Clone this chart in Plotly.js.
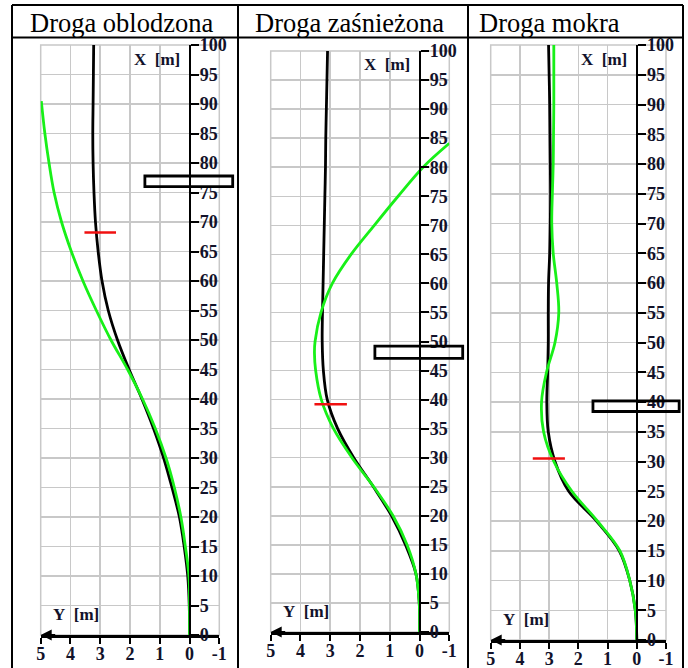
<!DOCTYPE html>
<html><head><meta charset="utf-8">
<script src="https://cdn.plot.ly/plotly-3.0.1.min.js"></script>
<style>html,body{margin:0;padding:0;background:#fff;}#chart{width:688px;height:668px;}</style>
</head><body><div id="chart"></div>
<script>
// ---- data ----
const titles = ['Droga oblodzona', 'Droga zaśnieżona', 'Droga mokra'];
const distTicks = [0,5,10,15,20,25,30,35,40,45,50,55,60,65,70,75,80,85,90,95,100];
const distTickText = distTicks.map(v => '<b>' + v + '</b>');
const latTicks = [5,4,3,2,1,0,-1];
const latTickText = ['<b>5</b>','<b>4</b>','<b>3</b>','<b>2</b>','<b>1</b>','<b>0</b>','<b>-1</b>'];
const latRange = [5,-1];
const distRange = [0,100];
const xLabel = '<b>X\u00a0\u00a0[m]</b>';
const yLabel = '<b>Y\u00a0\u00a0[m]</b>';

const pathX = [0,5,10,15,20,25,30,35,40,45,50,55,60,65,70,75,80,85,90,95,100];
const iceBlack  = [0,0.01,0.06,0.18,0.34,0.59,0.87,1.21,1.60,2.03,2.42,2.73,2.94,3.07,3.16,3.21,3.24,3.25,3.24,3.23,3.22];
const snowBlack = [0,0.01,0.12,0.47,0.94,1.55,2.21,2.75,3.10,3.23,3.27,3.26,3.24,3.22,3.20,3.18,3.16,3.15,3.13,3.11,3.09];
const wetBlack  = [0,0.05,0.24,0.60,1.38,2.33,2.80,3.03,3.08,3.05,3.03,3.03,3.02,2.98,2.96,2.95,2.96,2.97,2.98,3.00,3.02];

const iceGreenX  = [0,5,10,15,20,25,30,35,40,45,50,55,60,65,70,75,80,85,90.5];
const iceGreenY  = [0,0,0.02,0.14,0.29,0.51,0.79,1.15,1.58,2.08,2.64,3.13,3.58,3.97,4.30,4.55,4.72,4.86,4.98];
const snowGreenX = [0,5,10,15,20,25,30,35,40,45,48,50,55,60,65,70,75,80,84.1];
const snowGreenY = [0,0.01,0.12,0.42,0.89,1.54,2.27,2.89,3.30,3.49,3.53,3.51,3.31,2.93,2.30,1.52,0.72,-0.12,-1.0];
const wetGreenX  = [0,5,10,15,20,25,30,35,40,45,50,55,60,65,70,75,80,85,90,95,100];
const wetGreenY  = [0,0.05,0.24,0.58,1.35,2.22,2.84,3.19,3.26,3.09,2.80,2.67,2.74,2.86,2.91,2.89,2.86,2.85,2.84,2.84,2.84];

const markY0 = [3.53,3.53,3.56];
const markY1 = [2.47,2.44,2.46];
const markX  = [68.2,39.2,30.5];

const obstY0 = [1.5,1.5,1.5];
const obstY1 = [-1.45,-1.45,-1.45];
const obstX0 = [76.0,47.1,38.4];
const obstX1 = [77.8,49.2,40.2];

const blacks = [iceBlack, snowBlack, wetBlack];
const greensX = [iceGreenX, snowGreenX, wetGreenX];
const greensY = [iceGreenY, snowGreenY, wetGreenY];

// ---- layout geometry (pixels) ----
const W = 688, H = 668;
const panels = [
  {xd:[40.7,219.3], yd:[45,635], tx:28},
  {xd:[270.7,449.3], yd:[51,632], tx:253},
  {xd:[490.7,666], yd:[45,640], tx:477}
];
const serif = 'Liberation Serif';
const tickFont = {family:serif, size:18, color:'#12122a'};
const green = '#18f018';

const data = [];
const layout = {
  width:W, height:H, margin:{l:0,r:0,t:0,b:0},
  paper_bgcolor:'#fff', plot_bgcolor:'#fff',
  showlegend:false, hovermode:false,
  annotations:[], shapes:[]
};

function frac(v){ return (latRange[0]-v)/(latRange[0]-latRange[1]); }

panels.forEach((p,i)=>{
  const s = i===0 ? '' : String(i+1);
  const xa = 'x'+s, ya = 'y'+s;
  const xd = [p.xd[0]/W, p.xd[1]/W];
  const yd = [1-p.yd[1]/H, 1-p.yd[0]/H];
  layout['xaxis'+s] = {
    domain:xd, range:latRange, anchor:ya, tickmode:'array',
    tickvals:latTicks, ticktext:latTickText,
    showgrid:true, gridcolor:'#c8c8c8', gridwidth:1.5, zeroline:false,
    showline:true, linecolor:'#000', linewidth:2.5,
    ticks:'outside', ticklen:6, tickwidth:2, tickcolor:'#000',
    ticklabelstandoff:-5,
    tickfont:tickFont, fixedrange:true
  };
  layout['yaxis'+s] = {
    domain:yd, range:distRange, anchor:'free', side:'right',
    position: xd[0] + frac(0)*(xd[1]-xd[0]),
    tickmode:'array', tickvals:distTicks, ticktext:distTickText,
    showgrid:true, gridcolor:'#c8c8c8', gridwidth:1.5, zeroline:false,
    showline:true, linecolor:'#000', linewidth:2.5,
    ticks:'outside', ticklen:8, tickwidth:2, tickcolor:'#000',
    ticklabelstandoff:-3,
    tickfont:tickFont, fixedrange:true
  };
  // frame
  layout.shapes.push({type:'rect', xref:xa+' domain', yref:ya+' domain', x0:0, x1:1, y0:0, y1:1,
    line:{color:'#c8c8c8', width:1.5}, layer:'below'});
  // obstacle
  layout.shapes.push({type:'rect', xref:xa+' domain', yref:ya, x0:frac(obstY0[i]), x1:frac(obstY1[i]),
    y0:obstX0[i], y1:obstX1[i], line:{color:'#000', width:2.8}, fillcolor:'rgba(0,0,0,0)', layer:'above'});

  data.push({type:'scatter', mode:'lines', x:blacks[i], y:pathX, xaxis:xa, yaxis:ya,
    line:{color:'#000', width:2.8, shape:'spline', smoothing:1}});
  data.push({type:'scatter', mode:'lines', x:greensY[i], y:greensX[i], xaxis:xa, yaxis:ya,
    line:{color:green, width:2.8, shape:'spline', smoothing:1}});
  data.push({type:'scatter', mode:'lines', x:[markY0[i], markY1[i]], y:[markX[i], markX[i]], xaxis:xa, yaxis:ya,
    line:{color:'#f01010', width:2.5}});

  // axis arrows
  layout.annotations.push({xref:xa, yref:ya, x:latRange[0], y:distRange[0], ax:16, ay:0, text:'',
    showarrow:true, arrowhead:2, arrowsize:1.1, arrowwidth:2, arrowcolor:'#000'});
  layout.annotations.push({xref:xa, yref:ya, x:0, y:distRange[1]+0.6, ax:0, ay:16, text:'',
    showarrow:true, arrowhead:2, arrowsize:1.1, arrowwidth:2, arrowcolor:'#000'});
  // axis names
  layout.annotations.push({xref:xa, yref:ya, x:0.26, y:97.6, xanchor:'right', yanchor:'middle',
    text:xLabel, showarrow:false, font:{family:serif, size:17, color:'#12122a'}});
  layout.annotations.push({xref:xa, yref:ya, x:4.65, y:3.5, xanchor:'left', yanchor:'middle',
    text:yLabel, showarrow:false, font:{family:serif, size:17, color:'#12122a'}});
  // title
  layout.annotations.push({xref:'paper', yref:'paper', x:p.tx/W, y:1-23/H, xanchor:'left', yanchor:'middle',
    text:titles[i], showarrow:false, font:{family:serif, size:26.5, color:'#000'}});
});

// table lines
const tl = {color:'#000', width:2};
const hLines = [5, 37.5];
const vLines = [12, 238, 468, 683];
hLines.forEach(y=>layout.shapes.push({type:'line', xref:'paper', yref:'paper',
  x0:12/W, x1:683/W, y0:1-y/H, y1:1-y/H, line:tl, layer:'above'}));
vLines.forEach(x=>layout.shapes.push({type:'line', xref:'paper', yref:'paper',
  x0:x/W, x1:x/W, y0:1-5/H, y1:0, line:tl, layer:'above'}));

Plotly.newPlot('chart', data, layout, {staticPlot:true, displayModeBar:false});
</script></body></html>
